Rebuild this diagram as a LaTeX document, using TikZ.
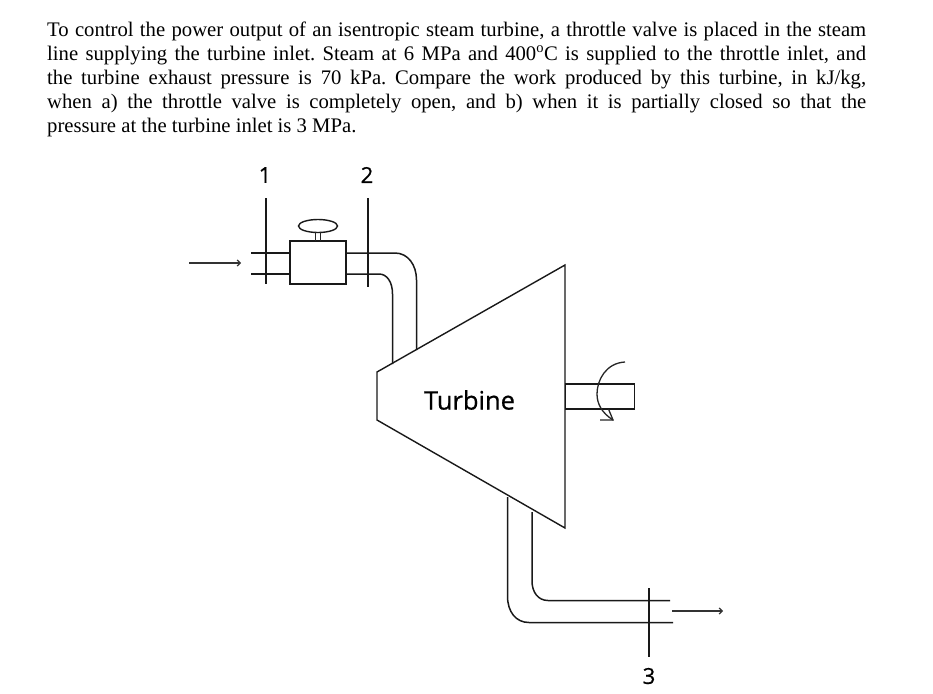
\documentclass[tikz,border=0pt]{standalone}
\usepackage{fontspec}
\setmainfont{Liberation Serif}
\newfontfamily\labelfont[FakeBold=0.6]{Open Sans}
\usetikzlibrary{arrows.meta,calc,shapes.geometric}
\tikzset{
  pipe/.style={line width=1.5pt,black!90},
  thin pipe/.style={line width=1.3pt,black!85},
  outline/.style={line width=1.4pt,black!90},
  flange/.style={line width=1.5pt,black!90},
  flow/.style={line width=1.2pt,black!80,-{Straight Barb[length=3pt,width=6pt]}},
  para/.style={anchor=base west,inner sep=0pt,font=\fontsize{20.7}{24}\selectfont},
  statelabel/.style={font=\labelfont\fontsize{22}{24}\selectfont,inner sep=0pt,text=black},
}
\newcommand{\parline}[1]{\hbox to 819pt{#1}}
\frenchspacing
\begin{document}
\begin{tikzpicture}[x=1pt,y=-1pt]
\useasboundingbox (0,0) rectangle (933,693);
% text
\node[para] (l1) at (47,36.5) {\parline{To control the power output of an isentropic steam turbine, a throttle valve is placed in the steam}};
\node[para] (l2) at (47,60.5) {\parline{line supplying the turbine inlet. Steam at 6 MPa and 400\textsuperscript{o}C is supplied to the throttle inlet, and}};
\node[para] (l3) at (47,84.5) {\parline{the turbine exhaust pressure is 70 kPa. Compare the work produced by this turbine, in kJ/kg,}};
\node[para] (l4) at (47,108.5) {\parline{when a) the throttle valve is completely open, and b) when it is partially closed so that the}};
\node[para] (l5) at (47,132.5) {pressure at the turbine inlet is 3 MPa.};
% valve
\node[draw,outline,minimum width=56pt,minimum height=43pt,inner sep=0pt] (valve) at (318,262.5) {};
\node[draw,outline,ellipse,minimum width=39pt,minimum height=13pt,inner sep=0pt] (wheel) at (318,226) {};
\draw[thin pipe] (315.5,232.3) -- (315.5,241);
\draw[thin pipe] (320.5,232.3) -- (320.5,241);
% turbine
\coordinate (t1) at (377,372);
\coordinate (t2) at (565,265);
\coordinate (t3) at (565,528);
\coordinate (t4) at (377,420);
\draw[outline,line join=miter] (t1) -- (t2) -- (t3) -- (t4) -- cycle;
\node[statelabel,font=\labelfont\fontsize{25.5}{28}\selectfont] (turb) at (469.5,400) {Turbine};
% inlet pipe
\coordinate (a1) at (251,253);
\coordinate (a2) at (251,274);
\draw[pipe] (a1) -- (290,253);
\draw[pipe] (a2) -- (290,274);
\coordinate (o1) at (416.5,350);
\coordinate (i1) at (392.5,364);
\draw[pipe] (346,253) -- (395,253) .. controls (408,253) and (416.5,265) .. (416.5,280) -- (o1);
\draw[pipe] (346,274) -- (379,274) .. controls (387,274) and (392.5,282) .. (392.5,294) -- (i1);
% flanges
\coordinate (f1a) at (266,198); \coordinate (f1b) at (266,284);
\coordinate (f2a) at (368,198); \coordinate (f2b) at (368,287);
\draw[flange] (f1a) -- (f1b);
\draw[flange] (f2a) -- (f2b);
\node[statelabel] (n1) at (265,175) {1};
\node[statelabel] (n2) at (367,175) {2};
% inlet arrow
\coordinate (ia) at (189,263); \coordinate (ib) at (241,263);
\draw[flow] (ia) -- (ib);
% shaft
\node[draw,outline,minimum width=69pt,minimum height=25pt,inner sep=0pt,anchor=west] (shaft) at (565,396.5) {};
\coordinate (r1) at (625,362); \coordinate (r2) at (613,420);
\draw[thin pipe] (r1) .. controls (606,363) and (597,380) .. (597,394) .. controls (597,404) and (602,413) .. (r2);
\draw[thin pipe] (600,420) -- (r2) -- (608.5,409);
% exhaust
\coordinate (e1) at (507.5,497); \coordinate (e2) at (532,512);
\coordinate (e3) at (673,622.5); \coordinate (e4) at (670,600.5);
\draw[pipe] (e1) -- (507.5,596) .. controls (507.5,612) and (516,622.5) .. (529,622.5) -- (e3);
\draw[pipe] (e2) -- (532,581) .. controls (532,592) and (538,600.5) .. (548,600.5) -- (e4);
\coordinate (f3a) at (649,588); \coordinate (f3b) at (649,657);
\draw[flange] (f3a) -- (f3b);
\node[statelabel] (n3) at (649,676) {3};
\coordinate (xa) at (672,611); \coordinate (xb) at (723,611);
\draw[flow] (xa) -- (xb);
\end{tikzpicture}
\end{document}
